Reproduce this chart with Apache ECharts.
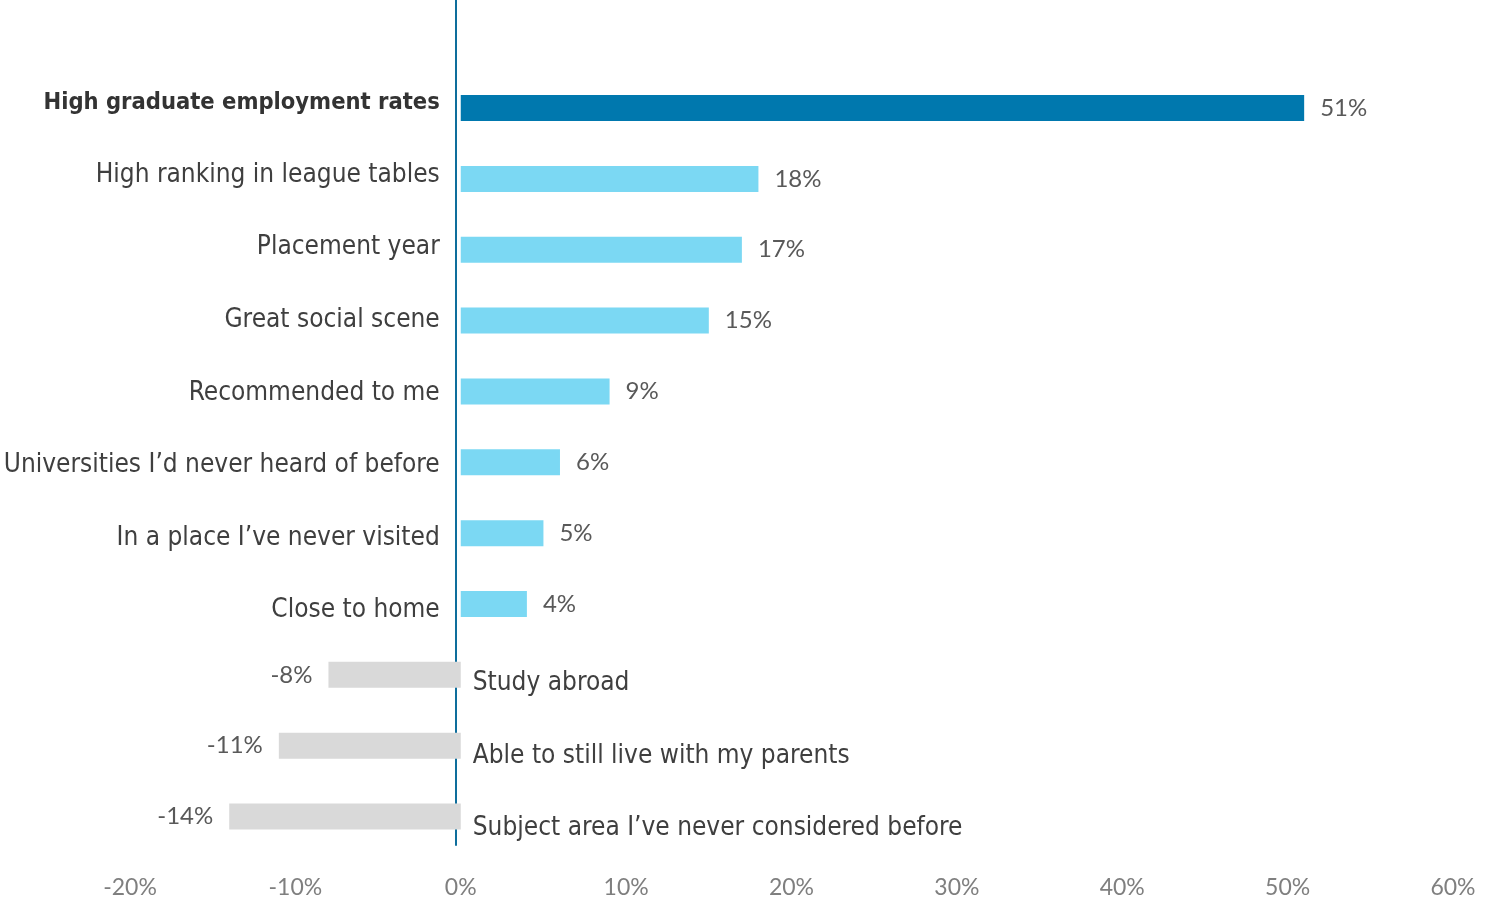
<!DOCTYPE html>
<html>
<head>
<meta charset="utf-8">
<script src="https://cdn.jsdelivr.net/npm/echarts@6/dist/echarts.min.js"></script>
<style>html,body{margin:0;padding:0;background:#fff}#c{width:1486px;height:908px}</style>
</head>
<body>
<div id="c"></div>
<script>
const categories = [
  'High graduate employment rates',
  'High ranking in league tables',
  'Placement year',
  'Great social scene',
  'Recommended to me',
  'Universities I\u2019d never heard of before',
  'In a place I\u2019ve never visited',
  'Close to home',
  'Study abroad',
  'Able to still live with my parents',
  'Subject area I\u2019ve never considered before'
];
const values = [51, 18, 17, 15, 9, 6, 5, 4, -8, -11, -14];
const xTicks = { min: -20, max: 60, interval: 10 };

const CAT_FONT = '"Liberation Sans Narrow","DejaVu Sans Condensed","Roboto Condensed",sans-serif';
const NUM_FONT = 'Lato, "Open Sans", sans-serif';

function barColor(v, i) {
  if (i === 0) return '#0078AE';
  return v >= 0 ? '#7BD8F3' : '#D9D9D9';
}

const barData = values.map((v, i) => ({
  value: v,
  itemStyle: { color: barColor(v, i) },
  label: { position: v >= 0 ? 'right' : 'left', distance: 16 }
}));

const labelData = values.map((v, i) => ({
  value: v,
  label: {
    position: v >= 0 ? 'left' : 'right',
    distance: v >= 0 ? 21 : 12,
    fontWeight: i === 0 ? 'bold' : 'normal',
    fontSize: i === 0 ? 23.5 : 26,
    color: i === 0 ? '#333333' : '#3F3F3F'
  }
}));

const chart = echarts.init(document.getElementById('c'));
chart.setOption({
  animation: false,
  grid: [
    { left: 130, right: 33, top: 72.6, height: 779.4 },
    { left: 456, width: 100, top: 0, height: 845 },
    { left: 130, right: 33, top: 66.2, height: 798.6 }
  ],
  xAxis: [
    {
      gridIndex: 0, type: 'value', min: xTicks.min, max: xTicks.max, interval: xTicks.interval,
      axisLine: { show: false }, axisTick: { show: false }, splitLine: { show: false },
      axisLabel: { formatter: '{value}%', color: '#7F7F7F', fontFamily: NUM_FONT, fontSize: 23, margin: 24 }
    },
    { gridIndex: 1, type: 'value', min: 0, max: 1, show: false },
    { gridIndex: 2, type: 'value', min: xTicks.min, max: xTicks.max, show: false }
  ],
  yAxis: [
    { gridIndex: 0, type: 'category', inverse: true, data: categories, show: false },
    {
      gridIndex: 1, type: 'category', data: [''],
      axisLine: { show: true, lineStyle: { color: '#0E6E9C', width: 2 } },
      axisTick: { show: false }, axisLabel: { show: false }
    },
    { gridIndex: 2, type: 'category', inverse: true, data: categories, show: false }
  ],
  series: [
    {
      type: 'bar', xAxisIndex: 0, yAxisIndex: 0, barWidth: 26,
      data: barData,
      label: {
        show: true, formatter: p => p.value + '%',
        color: '#595959', fontFamily: NUM_FONT, fontSize: 24
      }
    },
    {
      type: 'bar', xAxisIndex: 2, yAxisIndex: 2, barWidth: 26, silent: true,
      itemStyle: { color: 'rgba(0,0,0,0)' },
      data: labelData,
      label: {
        show: true, formatter: p => p.name,
        fontFamily: CAT_FONT, fontSize: 26
      }
    }
  ]
});
</script>
</body>
</html>
